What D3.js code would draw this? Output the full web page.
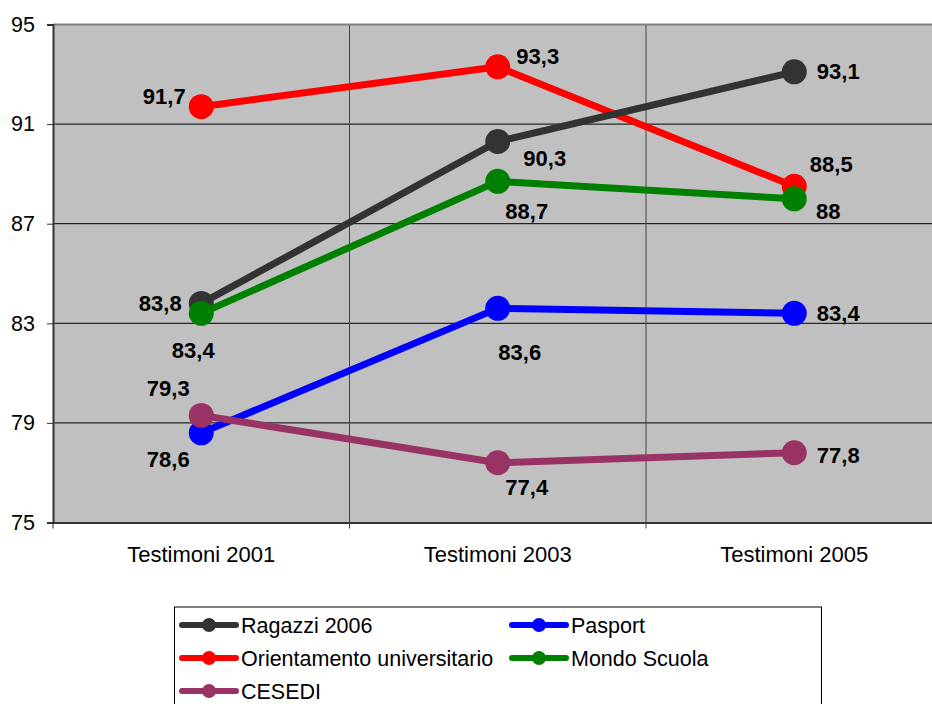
<!DOCTYPE html>
<html>
<head>
<meta charset="utf-8">
<script src="https://cdn.jsdelivr.net/npm/d3@7"></script>
<style>
  body { margin: 0; background: #fff; }
  text { font-family: "Liberation Sans", Arial, sans-serif; }
</style>
</head>
<body>
<script>
// data
var categories = ["Testimoni 2001", "Testimoni 2003", "Testimoni 2005"];
var seriesNames = ["Ragazzi 2006", "Pasport", "Orientamento universitario", "Mondo Scuola", "CESEDI"];
var ragazzi = [83.8, 90.3, 93.1];
var pasport = [78.6, 83.6, 83.4];
var orientamento = [91.7, 93.3, 88.5];
var mondoScuola = [83.4, 88.7, 88];
var cesedi = [79.3, 77.4, 77.8];
var yTicks = [75, 79, 83, 87, 91, 95];

var colors = ["#333333", "#0000ff", "#ff0000", "#008000", "#993366"];
// label offsets (dx, dy) relative to each point
var labelOffsets = [
  [[-41, 0], [47, 17], [44, 0]],
  [[-33, 27], [22, 44], [44, 0]],
  [[-37, -10], [40, -10], [37, -22]],
  [[-8, 37], [29, 30], [34, 13]],
  [[-33, -27], [29, 25], [44, 3]]
];

var series = [ragazzi, pasport, orientamento, mondoScuola, cesedi];
// drawing order: back to front
var drawOrder = [2, 0, 1, 3, 4];

var width = 932, height = 704;
var margin = {left: 53, top: 24.5};
var plotW = 889.5, plotH = 498;

var svg = d3.select("body").append("svg")
  .attr("width", width)
  .attr("height", height);

var x = d3.scaleBand().domain(categories).range([margin.left, margin.left + plotW]);
var y = d3.scaleLinear().domain([75, 95]).range([margin.top + plotH, margin.top]);

// plot background
svg.append("rect")
  .attr("x", margin.left).attr("y", margin.top)
  .attr("width", plotW).attr("height", plotH)
  .attr("fill", "#c0c0c0");

// horizontal grid
svg.append("g").selectAll("line")
  .data(yTicks.slice(1, -1))
  .join("line")
  .attr("x1", margin.left).attr("x2", margin.left + plotW)
  .attr("y1", d => y(d)).attr("y2", d => y(d))
  .attr("stroke", "#000").attr("stroke-width", 1);

// vertical grid at category boundaries
svg.append("g").selectAll("line")
  .data(categories.slice(1))
  .join("line")
  .attr("x1", d => x(d)).attr("x2", d => x(d))
  .attr("y1", margin.top).attr("y2", margin.top + plotH + 6)
  .attr("stroke", "#444").attr("stroke-width", 1);

// top border
svg.append("line")
  .attr("x1", margin.left).attr("x2", margin.left + plotW)
  .attr("y1", margin.top).attr("y2", margin.top)
  .attr("stroke", "#808080").attr("stroke-width", 2);

// y axis
var yAxis = svg.append("g")
  .attr("transform", "translate(" + margin.left + ",0)")
  .call(d3.axisLeft(y).tickValues(yTicks).tickSize(6).tickPadding(12));
yAxis.select(".domain").attr("stroke", "#333").attr("stroke-width", 2);
yAxis.selectAll(".tick line").attr("stroke", "#333");
yAxis.selectAll("text")
  .attr("font-size", "21.5px")
  .attr("fill", "#000")
  .attr("font-family", "Liberation Sans, Arial, sans-serif");

// x axis
var xAxis = svg.append("g")
  .attr("transform", "translate(0," + (margin.top + plotH) + ")")
  .call(d3.axisBottom(x).tickSize(0).tickPadding(24));
xAxis.select(".domain").attr("stroke", "#333").attr("stroke-width", 2);
xAxis.selectAll("text")
  .attr("font-size", "22px")
  .attr("fill", "#000")
  .attr("font-family", "Liberation Sans, Arial, sans-serif");
svg.append("line")
  .attr("x1", margin.left).attr("x2", margin.left)
  .attr("y1", margin.top + plotH).attr("y2", margin.top + plotH + 6)
  .attr("stroke", "#333");

var line = d3.line()
  .x((d, i) => x(categories[i]) + x.bandwidth() / 2)
  .y(d => y(d));

drawOrder.forEach(function(s) {
  var g = svg.append("g");
  g.append("path")
    .attr("d", line(series[s]))
    .attr("fill", "none")
    .attr("stroke", colors[s])
    .attr("stroke-width", 7)
    .attr("stroke-linejoin", "round");
  g.selectAll("circle")
    .data(series[s])
    .join("circle")
    .attr("cx", (d, i) => x(categories[i]) + x.bandwidth() / 2)
    .attr("cy", d => y(d))
    .attr("r", 12.5)
    .attr("fill", colors[s]);
});

// data labels
series.forEach(function(vals, s) {
  svg.append("g").selectAll("text")
    .data(vals)
    .join("text")
    .attr("x", (d, i) => x(categories[i]) + x.bandwidth() / 2 + labelOffsets[s][i][0])
    .attr("y", (d, i) => y(d) + labelOffsets[s][i][1])
    .attr("text-anchor", "middle")
    .attr("dominant-baseline", "central")
    .attr("font-size", "22px")
    .attr("font-weight", "bold")
    .attr("fill", "#000")
    .text(d => String(d).replace(".", ","));
});

// legend
var legend = svg.append("g");
legend.append("rect")
  .attr("x", 174.5).attr("y", 607)
  .attr("width", 647).attr("height", 110)
  .attr("fill", "#fff")
  .attr("stroke", "#000").attr("stroke-width", 1);

var legendOrder = [0, 1, 2, 3, 4];
legendOrder.forEach(function(s, k) {
  var col = k % 2, row = Math.floor(k / 2);
  var lx = 180 + col * 330, ly = 625 + row * 33;
  legend.append("line")
    .attr("x1", lx + 2).attr("x2", lx + 56)
    .attr("y1", ly).attr("y2", ly)
    .attr("stroke", colors[s]).attr("stroke-width", 6)
    .attr("stroke-linecap", "round");
  legend.append("circle")
    .attr("cx", lx + 29).attr("cy", ly).attr("r", 7)
    .attr("fill", colors[s]);
  legend.append("text")
    .attr("x", lx + 61).attr("y", ly + 1)
    .attr("dominant-baseline", "central")
    .attr("font-size", "21.5px")
    .attr("fill", "#000")
    .text(seriesNames[s]);
});
</script>
</body>
</html>
